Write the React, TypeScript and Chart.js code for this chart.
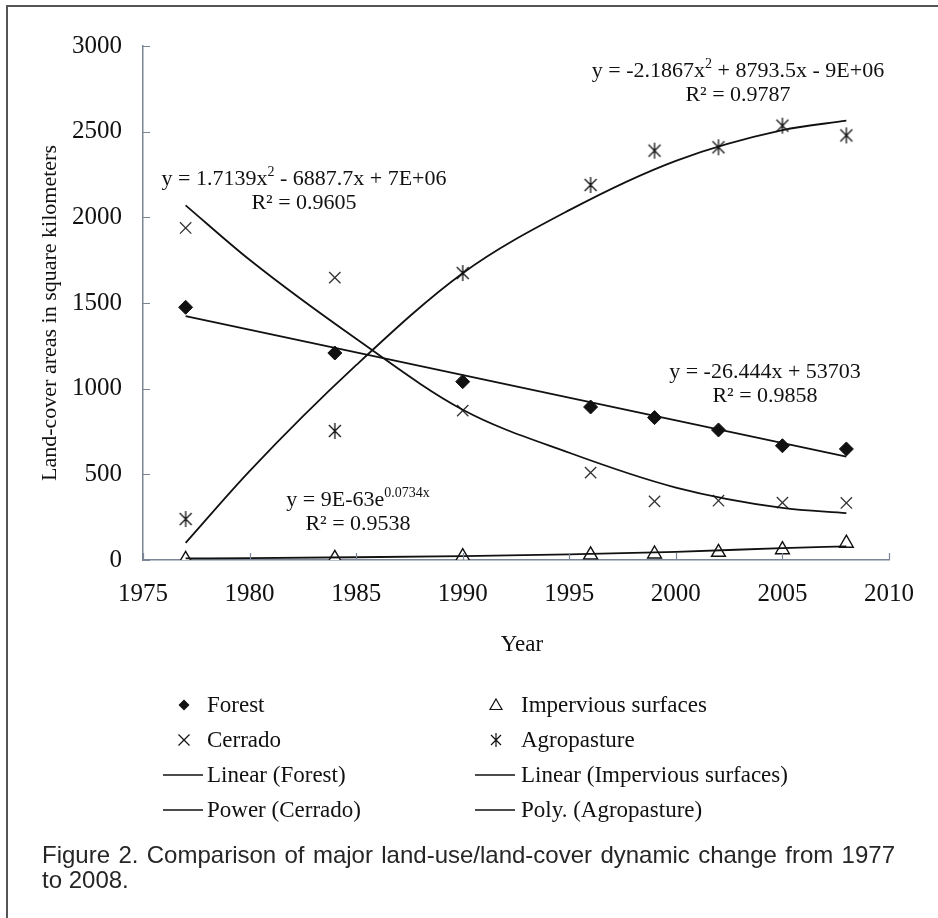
import React, { useEffect, useRef } from "react";
import { Chart, registerables } from "chart.js";

Chart.register(...registerables);

// ---- data ----
const years = [1977, 1984, 1990, 1996, 1999, 2002, 2005, 2008];
const forest = [1475, 1208, 1041, 893, 831, 759, 667, 648];
const cerrado = [1938, 1648, 872, 510, 342, 346, 335, 333];
const agropasture = [239, 753, 1675, 2189, 2389, 2409, 2535, 2478];
const impervious = [4, 10, 20, 30, 35, 45, 60, 98];

// trendline values
const trendYears = [1977, 1980, 1985, 1990, 1995, 2000, 2005, 2008];
const forestTrendYears = [1977, 2008];
const forestTrend = [1423, 603];
const cerradoTrend = [2070, 1752, 1291, 877, 626, 423, 304, 274];
const agroTrend = [100, 519, 1137, 1674, 2042, 2330, 2509, 2564];
const imperviousTrend = [9, 11, 16, 23, 33, 48, 69, 80];

const xTicks = [1975, 1980, 1985, 1990, 1995, 2000, 2005, 2010];
const yTicks = [0, 500, 1000, 1500, 2000, 2500, 3000];

const equations = [
  { main: "y = -2.1867x", sup: "2", rest: " + 8793.5x - 9E+06", r2: "R² = 0.9787", cx: 738, y: 70 },
  { main: "y = 1.7139x", sup: "2", rest: " - 6887.7x + 7E+06", r2: "R² = 0.9605", cx: 304, y: 178 },
  { main: "y = -26.444x + 53703", sup: "", rest: "", r2: "R² = 0.9858", cx: 765, y: 371 },
  { main: "y = 9E-63e", sup: "0.0734x", rest: "", r2: "R² = 0.9538", cx: 358, y: 499 },
];

const legendItems = [
  { label: "Forest", kind: "diamond", col: 0, row: 0 },
  { label: "Impervious surfaces", kind: "triangle", col: 1, row: 0 },
  { label: "Cerrado", kind: "x", col: 0, row: 1 },
  { label: "Agropasture", kind: "asterisk", col: 1, row: 1 },
  { label: "Linear (Forest)", kind: "line", col: 0, row: 2 },
  { label: "Linear (Impervious surfaces)", kind: "line", col: 1, row: 2 },
  { label: "Power (Cerrado)", kind: "line", col: 0, row: 3 },
  { label: "Poly. (Agropasture)", kind: "line", col: 1, row: 3 },
];

const captionLine1 = "Figure 2. Comparison of major land-use/land-cover dynamic change from 1977";
const captionLine2 = "to 2008.";

const INK = "#111111";
const AXIS = "#7b8596";
const SERIF = "'Liberation Serif', 'Times New Roman', serif";

function makeAsterisk(size: number): HTMLCanvasElement {
  const c = document.createElement("canvas");
  c.width = size * 2 + 4;
  c.height = size * 2 + 4;
  const g = c.getContext("2d")!;
  const m = size + 2;
  g.strokeStyle = INK;
  g.lineWidth = 1.3;
  g.beginPath();
  g.moveTo(m, m - size);
  g.lineTo(m, m + size);
  g.moveTo(m - size * 0.75, m - size * 0.75);
  g.lineTo(m + size * 0.75, m + size * 0.75);
  g.moveTo(m + size * 0.75, m - size * 0.75);
  g.lineTo(m - size * 0.75, m + size * 0.75);
  g.stroke();
  return c;
}

function drawMarker(ctx: CanvasRenderingContext2D, kind: string, x: number, y: number) {
  ctx.save();
  ctx.strokeStyle = INK;
  ctx.fillStyle = INK;
  ctx.lineWidth = 1.2;
  ctx.beginPath();
  if (kind === "diamond") {
    ctx.moveTo(x, y - 5.5);
    ctx.lineTo(x + 5.5, y);
    ctx.lineTo(x, y + 5.5);
    ctx.lineTo(x - 5.5, y);
    ctx.closePath();
    ctx.fill();
  } else if (kind === "triangle") {
    ctx.moveTo(x, y - 6);
    ctx.lineTo(x + 6, y + 4.5);
    ctx.lineTo(x - 6, y + 4.5);
    ctx.closePath();
    ctx.stroke();
  } else if (kind === "x") {
    ctx.moveTo(x - 5.5, y - 5.5);
    ctx.lineTo(x + 5.5, y + 5.5);
    ctx.moveTo(x + 5.5, y - 5.5);
    ctx.lineTo(x - 5.5, y + 5.5);
    ctx.stroke();
  } else if (kind === "asterisk") {
    ctx.moveTo(x, y - 7);
    ctx.lineTo(x, y + 7);
    ctx.moveTo(x - 5, y - 5);
    ctx.lineTo(x + 5, y + 5);
    ctx.moveTo(x + 5, y - 5);
    ctx.lineTo(x - 5, y + 5);
    ctx.stroke();
  } else if (kind === "line") {
    ctx.lineWidth = 1.6;
    ctx.moveTo(x - 21, y);
    ctx.lineTo(x + 19, y);
    ctx.stroke();
  }
  ctx.restore();
}

const decorPlugin = {
  id: "decor",
  afterDraw(chart: any) {
    const ctx: CanvasRenderingContext2D = chart.ctx;
    const xs = chart.scales.x;
    const ys = chart.scales.y;
    const area = chart.chartArea;
    ctx.save();
    // inward ticks
    ctx.strokeStyle = AXIS;
    ctx.lineWidth = 1.2;
    ctx.beginPath();
    for (const v of yTicks) {
      const py = Math.round(ys.getPixelForValue(v)) + 0.5;
      ctx.moveTo(area.left, py);
      ctx.lineTo(area.left + 7, py);
    }
    for (const v of xTicks) {
      const px = Math.round(xs.getPixelForValue(v)) + 0.5;
      ctx.moveTo(px, area.bottom);
      ctx.lineTo(px, area.bottom - 7);
    }
    ctx.stroke();

    // y-axis title
    ctx.fillStyle = INK;
    ctx.font = `22px ${SERIF}`;
    ctx.textAlign = "center";
    ctx.textBaseline = "middle";
    ctx.save();
    ctx.translate(50, 313);
    ctx.rotate(-Math.PI / 2);
    ctx.fillText("Land-cover areas in square kilometers", 0, 0);
    ctx.restore();

    // x-axis title
    ctx.font = `23px ${SERIF}`;
    ctx.fillText("Year", (area.left + area.right) / 2 + 6, 645);

    // equations
    for (const eq of equations) {
      ctx.font = `22px ${SERIF}`;
      const wMain = ctx.measureText(eq.main).width;
      const wRest = ctx.measureText(eq.rest).width;
      ctx.font = `14px ${SERIF}`;
      const wSup = eq.sup ? ctx.measureText(eq.sup).width : 0;
      const total = wMain + wSup + wRest;
      const x0 = eq.cx - total / 2;
      ctx.textAlign = "left";
      ctx.textBaseline = "alphabetic";
      ctx.font = `22px ${SERIF}`;
      ctx.fillText(eq.main, x0, eq.y + 7);
      ctx.font = `14px ${SERIF}`;
      if (eq.sup) ctx.fillText(eq.sup, x0 + wMain, eq.y - 2);
      ctx.font = `22px ${SERIF}`;
      ctx.fillText(eq.rest, x0 + wMain + wSup, eq.y + 7);
      ctx.textAlign = "center";
      ctx.fillText(eq.r2, eq.cx, eq.y + 31);
    }

    // legend
    const colX = [184, 496];
    const textX = [207, 521];
    const rowY = [705, 740, 775, 810];
    ctx.font = `23px ${SERIF}`;
    ctx.textAlign = "left";
    ctx.textBaseline = "middle";
    for (const it of legendItems) {
      const my = rowY[it.row];
      drawMarker(ctx, it.kind, colX[it.col], my);
      ctx.fillStyle = INK;
      ctx.fillText(it.label, textX[it.col], my + 1);
    }
    ctx.restore();
  },
};

export default function App() {
  const ref = useRef<HTMLCanvasElement | null>(null);

  useEffect(() => {
    const canvas = ref.current!;
    const asterisk = makeAsterisk(8);
    const pts = (xsv: number[], ysv: number[]) => xsv.map((x, i) => ({ x, y: ysv[i] }));
    const trendBase = {
      type: "line" as const,
      borderColor: INK,
      borderWidth: 1.8,
      pointRadius: 0,
      pointHoverRadius: 0,
      fill: false,
      cubicInterpolationMode: "monotone" as const,
    };
    const chart = new Chart(canvas, {
      type: "scatter",
      data: {
        datasets: [
          { ...trendBase, label: "Linear (Forest)", data: pts(forestTrendYears, forestTrend) },
          { ...trendBase, label: "Power (Cerrado)", data: pts(trendYears, cerradoTrend) },
          { ...trendBase, label: "Poly. (Agropasture)", data: pts(trendYears, agroTrend) },
          { ...trendBase, label: "Linear (Impervious surfaces)", data: pts(trendYears, imperviousTrend) },
          {
            label: "Forest",
            data: pts(years, forest),
            pointStyle: "rectRot",
            pointRadius: 7,
            backgroundColor: INK,
            borderColor: INK,
            borderWidth: 1,
          },
          {
            label: "Cerrado",
            data: pts(years, cerrado),
            pointStyle: "crossRot",
            pointRadius: 8,
            borderColor: "#333",
            borderWidth: 1.3,
          },
          {
            label: "Agropasture",
            data: pts(years, agropasture),
            pointStyle: asterisk as any,
            pointRadius: 8,
            borderColor: INK,
          },
          {
            label: "Impervious surfaces",
            data: pts(years, impervious),
            pointStyle: "triangle",
            pointRadius: 8,
            backgroundColor: "#ffffff",
            borderColor: INK,
            borderWidth: 1.4,
          },
        ],
      },
      options: {
        animation: false,
        responsive: false,
        maintainAspectRatio: false,
        layout: { padding: { left: 0, top: 46, right: 49, bottom: 258 } },
        plugins: {
          legend: { display: false },
          tooltip: { enabled: false },
          title: { display: false },
        },
        scales: {
          x: {
            type: "linear",
            min: 1975,
            max: 2010,
            afterFit: (s: any) => {
              s.height = 100;
            },
            grid: { display: false, drawTicks: false },
            border: { display: true, color: AXIS, width: 1.5 },
            ticks: {
              stepSize: 5,
              padding: 19,
              color: INK,
              font: { family: SERIF, size: 25 },
              callback: (v: any) => String(v),
            },
          },
          y: {
            type: "linear",
            min: 0,
            max: 3000,
            afterFit: (s: any) => {
              s.width = 143;
            },
            grid: { display: false, drawTicks: false },
            border: { display: true, color: AXIS, width: 1.5 },
            ticks: {
              stepSize: 500,
              padding: 21,
              color: INK,
              font: { family: SERIF, size: 25 },
              callback: (v: any) => String(v),
            },
          },
        },
      },
      plugins: [decorPlugin],
    });
    return () => chart.destroy();
  }, []);

  const captionFont = {
    fontFamily: "'Liberation Sans', Arial, sans-serif",
    fontSize: 24,
    lineHeight: "24px",
    color: "#262626",
    whiteSpace: "nowrap" as const,
  };

  return (
    <div style={{ position: "absolute", left: 0, top: 0, width: 938, height: 918, background: "#fff", overflow: "hidden" }}>
      <canvas ref={ref} width={938} height={918} style={{ position: "absolute", left: 0, top: 0, width: 938, height: 918 }} />
      <div
        style={{
          position: "absolute",
          left: 6,
          top: 5,
          width: 1000,
          height: 1000,
          borderLeft: "2px solid #555",
          borderTop: "2px solid #555",
          pointerEvents: "none",
        }}
      />
      <div
        style={{
          ...captionFont,
          position: "absolute",
          left: 42,
          top: 843,
          width: 853,
          whiteSpace: "normal",
          textAlign: "justify",
          textAlignLast: "justify" as any,
        }}
      >
        {captionLine1}
      </div>
      <div style={{ ...captionFont, position: "absolute", left: 42, top: 868 }}>{captionLine2}</div>
    </div>
  );
}
